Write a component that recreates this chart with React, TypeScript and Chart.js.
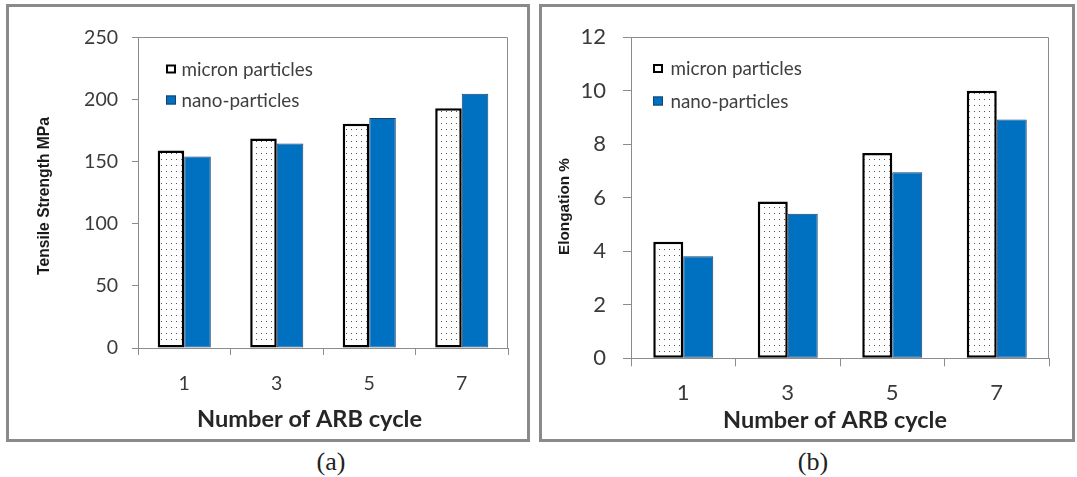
import React, { useEffect, useRef } from 'react';
import { Chart, registerables } from 'chart.js';

Chart.register(...registerables);

// ---------- data ----------
const categories = ['1', '3', '5', '7'];
const seriesNames = ['micron particles', 'nano-particles'];
const tensileMicron = [159, 168.5, 180.5, 193];
const tensileNano = [154, 164.5, 185, 204.5];
const elongMicron = [4.36, 5.86, 7.67, 10.0];
const elongNano = [3.81, 5.4, 6.95, 8.92];
const tensileTicks = [0, 50, 100, 150, 200, 250];
const elongTicks = [0, 2, 4, 6, 8, 10, 12];
const xTitleText = 'Number of ARB cycle';
const tensileTitle = 'Tensile Strength MPa';
const elongTitle = 'Elongation %';

const AXIS = '#8c8c8c';
const TICK_TXT = '#3a3a3a';
const NANO_FILL = '#0070C0';
const NANO_EDGE = '#1B3F6B';

function makeDots(): CanvasPattern | string {
  const c = document.createElement('canvas');
  c.width = 5;
  c.height = 6;
  const g = c.getContext('2d');
  if (!g) return '#ffffff';
  g.fillStyle = '#ffffff';
  g.fillRect(0, 0, 5, 6);
  g.fillStyle = '#555555';
  g.fillRect(2, 2, 1, 1);
  return g.createPattern(c, 'repeat') || '#ffffff';
}

function fitSize(ctx: CanvasRenderingContext2D, text: string, weight: string, family: string, target: number) {
  ctx.font = `${weight} 100px ${family}`;
  const w = ctx.measureText(text).width;
  return (100 * target) / w;
}

const panelTextPlugin = {
  id: 'panelText',
  afterDraw(chart: any, _args: any, o: any) {
    const ctx: CanvasRenderingContext2D = chart.ctx;
    const a = chart.chartArea;
    ctx.save();
    // plot frame (top and right)
    ctx.strokeStyle = AXIS;
    ctx.lineWidth = 1;
    ctx.beginPath();
    const t = Math.round(a.top) + 0.5;
    const r = Math.round(a.right) - 0.5;
    ctx.moveTo(a.left, t);
    ctx.lineTo(r, t);
    ctx.lineTo(r, a.bottom);
    ctx.stroke();

    // x title
    const xf = fitSize(ctx, o.xTitle.text, 'bold', 'Lato', o.xTitle.width);
    ctx.font = `bold ${xf}px Lato`;
    ctx.fillStyle = '#262626';
    ctx.textAlign = 'center';
    ctx.textBaseline = 'alphabetic';
    ctx.fillText(o.xTitle.text, o.xTitle.x, o.xTitle.y);

    // y title
    const yf = fitSize(ctx, o.yTitle.text, 'bold', "'Liberation Sans', Arial", o.yTitle.width);
    ctx.save();
    ctx.translate(o.yTitle.x, o.yTitle.y);
    ctx.rotate(-Math.PI / 2);
    ctx.font = `bold ${yf}px 'Liberation Sans', Arial`;
    ctx.fillStyle = '#1a1a1a';
    ctx.textAlign = 'center';
    ctx.textBaseline = 'middle';
    ctx.fillText(o.yTitle.text, 0, 0);
    ctx.restore();

    // legend inside plot
    const lg = o.legend;
    const lf = fitSize(ctx, chart.data.datasets[0].label, 'normal', 'Lato', lg.width);
    chart.data.datasets.forEach((ds: any, i: number) => {
      const bx = lg.x;
      const by = lg.ys[i];
      const bw = lg.box[0];
      const bh = lg.box[1];
      ctx.fillStyle = i === 0 ? '#ffffff' : ds.backgroundColor;
      ctx.fillRect(bx, by, bw, bh);
      const lw = i === 0 ? 2 : 1;
      ctx.lineWidth = lw;
      ctx.strokeStyle = ds.borderColor;
      ctx.strokeRect(bx + lw / 2, by + lw / 2, bw - lw, bh - lw);
      ctx.font = `normal ${lf}px Lato`;
      ctx.fillStyle = '#404040';
      ctx.textAlign = 'left';
      ctx.textBaseline = 'middle';
      ctx.fillText(ds.label, lg.textX, by + bh / 2 + 0.5);
    });
    ctx.restore();
  },
};

type PanelCfg = {
  left: number;
  top: number;
  width: number;
  height: number;
  micron: number[];
  nano: number[];
  ticks: number[];
  yw: number;
  xh: number;
  padTop: number;
  padRight: number;
  tickFont: number;
  yTickLen: number;
  yTickPad: number;
  xTickLen: number;
  xTickPad: number;
  xTitle: { text: string; x: number; y: number; width: number };
  yTitle: { text: string; x: number; y: number; width: number };
  legend: { x: number; ys: number[]; box: number[]; textX: number; width: number };
};

function BarPanel({ cfg }: { cfg: PanelCfg }) {
  const ref = useRef<HTMLCanvasElement>(null);
  const cw = cfg.width - 6;
  const ch = cfg.height - 6;
  useEffect(() => {
    const canvas = ref.current;
    if (!canvas) return;
    const dots = makeDots();
    const chart = new Chart(canvas, {
      type: 'bar',
      data: {
        labels: categories,
        datasets: [
          {
            label: seriesNames[0],
            data: cfg.micron,
            backgroundColor: dots as any,
            borderColor: '#000000',
            borderWidth: 2.5,
            borderSkipped: false,
            categoryPercentage: 0.574,
            barPercentage: 1,
          },
          {
            label: seriesNames[1],
            data: cfg.nano,
            backgroundColor: NANO_FILL,
            borderColor: NANO_EDGE,
            borderWidth: 1,
            borderSkipped: false,
            categoryPercentage: 0.574,
            barPercentage: 1,
          },
        ],
      },
      options: {
        responsive: false,
        animation: false,
        devicePixelRatio: 1,
        layout: { padding: { left: 0, top: cfg.padTop, right: cfg.padRight, bottom: 0 } },
        plugins: {
          legend: { display: false },
          tooltip: { enabled: false },
          panelText: { xTitle: cfg.xTitle, yTitle: cfg.yTitle, legend: cfg.legend },
        } as any,
        scales: {
          x: {
            type: 'category',
            offset: true,
            grid: {
              offset: true,
              drawOnChartArea: false,
              drawTicks: true,
              tickLength: cfg.xTickLen,
              color: AXIS,
            },
            border: { color: AXIS, width: 1 },
            ticks: {
              font: { family: 'Lato', size: cfg.tickFont },
              color: TICK_TXT,
              padding: cfg.xTickPad,
              maxRotation: 0,
            },
            afterFit: (s: any) => {
              s.height = cfg.xh;
            },
          },
          y: {
            min: cfg.ticks[0],
            max: cfg.ticks[cfg.ticks.length - 1],
            afterBuildTicks: (s: any) => {
              s.ticks = cfg.ticks.map((v) => ({ value: v }));
            },
            grid: {
              drawOnChartArea: false,
              drawTicks: true,
              tickLength: cfg.yTickLen,
              color: AXIS,
            },
            border: { color: AXIS, width: 1 },
            ticks: {
              font: { family: 'Lato', size: cfg.tickFont },
              color: TICK_TXT,
              padding: cfg.yTickPad,
            },
            afterFit: (s: any) => {
              s.width = cfg.yw;
            },
          },
        },
      },
      plugins: [panelTextPlugin as any],
    });
    return () => chart.destroy();
  }, []);
  return (
    <div
      style={{
        position: 'absolute',
        left: cfg.left,
        top: cfg.top,
        width: cfg.width,
        height: cfg.height,
        border: '3px solid #8a8a8a',
        boxSizing: 'border-box',
        background: '#ffffff',
      }}
    >
      <canvas ref={ref} width={cw} height={ch} style={{ display: 'block', width: cw, height: ch }} />
    </div>
  );
}

const panelA: PanelCfg = {
  left: 6,
  top: 4,
  width: 524,
  height: 438,
  micron: tensileMicron,
  nano: tensileNano,
  ticks: tensileTicks,
  yw: 129,
  xh: 91,
  padTop: 30.3,
  padRight: 19,
  tickFont: 19.5,
  yTickLen: 6,
  yTickPad: 14,
  xTickLen: 7,
  xTickPad: 17,
  xTitle: { text: xTitleText, x: 300.5, y: 419.7, width: 225 },
  yTitle: { text: tensileTitle, x: 36, y: 189, width: 158 },
  legend: { x: 157, ys: [57.5, 88.5], box: [10, 9], textX: 172.5, width: 131.5 },
};

const panelB: PanelCfg = {
  left: 539,
  top: 4,
  width: 536,
  height: 438,
  micron: elongMicron,
  nano: elongNano,
  ticks: elongTicks,
  yw: 89,
  xh: 80.7,
  padTop: 20.3,
  padRight: 23,
  tickFont: 22,
  yTickLen: 8,
  yTickPad: 17,
  xTickLen: 8,
  xTickPad: 13,
  xTitle: { text: xTitleText, x: 293, y: 421, width: 224 },
  yTitle: { text: elongTitle, x: 23, y: 199.5, width: 97 },
  legend: { x: 111, ys: [57, 89.5], box: [10, 9], textX: 128.5, width: 131.5 },
};

const captionStyle: React.CSSProperties = {
  position: 'absolute',
  width: 100,
  textAlign: 'center',
  fontFamily: "'Liberation Serif', 'Times New Roman', serif",
  fontSize: 26,
  lineHeight: '26px',
  color: '#222',
};

export default function App() {
  return (
    <div style={{ position: 'absolute', left: 0, top: 0, width: 1077, height: 477, background: '#ffffff', overflow: 'hidden' }}>
      <BarPanel cfg={panelA} />
      <BarPanel cfg={panelB} />
      <div style={{ ...captionStyle, left: 331 - 50, top: 449 }}>(a)</div>
      <div style={{ ...captionStyle, left: 813 - 50, top: 449 }}>(b)</div>
    </div>
  );
}
